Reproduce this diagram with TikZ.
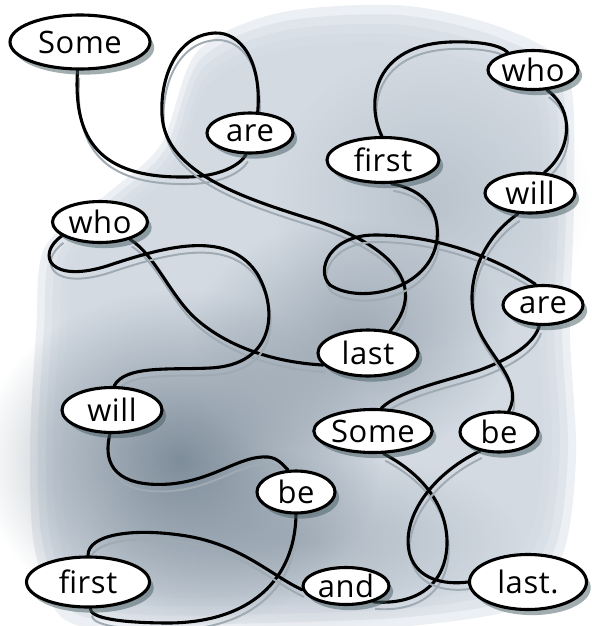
\documentclass[tikz,border=0pt]{standalone}
\usepackage{fontspec}
\newfontfamily\handfont{Open Sans}[LetterSpace=2]
\usetikzlibrary{shapes.geometric,shadows,fadings}
\definecolor{washlight}{RGB}{208,216,225}
\definecolor{washdark}{RGB}{112,128,142}
\definecolor{lineshade}{RGB}{160,170,178}
\definecolor{ovalshade}{RGB}{70,92,98}
\tikzfading[name=softblob, inner color=transparent!0, outer color=transparent!100]
\pgfdeclarelayer{wash}
\pgfdeclarelayer{links}
\pgfsetlayers{wash,links,main}
\begin{document}
\begin{tikzpicture}[x=0.025cm, y=-0.025cm,
    word/.style={ellipse, draw, line width=2.2pt, fill=white, inner sep=0pt,
      font=\handfont\fontsize{22}{22}\selectfont,
      drop shadow={shadow xshift=3pt, shadow yshift=-4pt, fill=ovalshade, opacity=0.5}},
    oval/.style 2 args={minimum width=#1*0.025cm, minimum height=#2*0.025cm},
    link/.style={line width=2.2pt, line cap=round,
      preaction={draw=lineshade, line width=1.4pt, transform canvas={shift={(1.2pt,-5pt)}}}}]
  \useasboundingbox (0,0) rectangle (592,626);
  % words
  \node[word, oval={140}{54}] (some1) at (80,42) {Some};
  \node[word, oval={86}{40}] (are1) at (250,133) {are};
  \node[word, oval={90}{39}] (who1) at (533,70) {who};
  \node[word, oval={112}{45}] (first1) at (383,160) {first};
  \node[word, oval={90}{40}] (will1) at (530,193) {will};
  \node[word, oval={95}{41}] (who2) at (100,222) {who};
  \node[word, oval={80}{39}] (are2) at (543,305) {are};
  \node[word, oval={100}{46}] (last1) at (368,353) {last};
  \node[word, oval={100}{45}] (will2) at (112,410) {will};
  \node[word, oval={110}{43}] (some2) at (373,431) {Some};
  \node[word, oval={78}{40}] (be1) at (499,432) {be};
  \node[word, oval={78}{42}] (be2) at (296,492) {be};
  \node[word, oval={123}{50}] (first2) at (88,582) {first};
  \node[word, oval={86}{37}] (and) at (346,586) {and};
  \node[word, oval={117}{55}] (last2) at (528,582) {last.};
  % lines between the words
  \begin{pgfonlayer}{links}
    \draw[link] (some1.265) .. controls (73,140) and (100,178) .. (185,177)
      .. controls (220,177) and (240,165) .. (are1.260);
    \draw[link] (are1.70) .. controls (262,60) and (240,32) .. (215,33)
      .. controls (175,35) and (160,80) .. (162,115)
      .. controls (165,175) and (250,200) .. (320,222)
      .. controls (400,250) and (425,290) .. (last1.45);
    \draw[link] (last1.195) .. controls (270,362) and (225,345) .. (195,318)
      .. controls (170,295) and (155,255) .. (who2.330);
    \draw[link] (who2.200) .. controls (35,255) and (50,285) .. (110,265)
      .. controls (170,245) and (230,230) .. (258,275)
      .. controls (278,310) and (275,365) .. (210,368)
      .. controls (170,370) and (125,365) .. (will2.85);
    \draw[link] (will2.265) .. controls (100,475) and (130,487) .. (170,484)
      .. controls (215,480) and (240,455) .. (268,457)
      .. controls (278,458) and (283,465) .. (be2.110);
    \draw[link] (be2.270) .. controls (295,580) and (250,622) .. (170,623)
      .. controls (120,623) and (90,618) .. (first2.275);
    \draw[link] (first2.90) .. controls (88,535) and (130,528) .. (180,535)
      .. controls (240,543) and (270,575) .. (and.185);
    \draw[link] (and.330) .. controls (410,605) and (445,590) .. (447,545)
      .. controls (448,500) and (415,470) .. (some2.295);
    \draw[link] (some2.70) .. controls (400,390) and (450,380) .. (480,370)
      .. controls (520,355) and (535,340) .. (are2.260);
    \draw[link] (are2.110) .. controls (500,260) and (440,235) .. (375,235)
      .. controls (330,235) and (315,270) .. (330,285)
      .. controls (360,305) and (430,290) .. (437,240)
      .. controls (440,210) and (425,190) .. (first1.290);
    \draw[link] (first1.93) .. controls (365,100) and (375,45) .. (450,42)
      .. controls (480,41) and (500,45) .. (who1.145);
    \draw[link] (who1.305) .. controls (575,110) and (572,150) .. (will1.55);
    \draw[link] (will1.240) .. controls (480,240) and (465,285) .. (475,320)
      .. controls (485,355) and (525,380) .. (be1.65);
    \draw[link] (be1.225) .. controls (430,475) and (400,520) .. (410,555)
      .. controls (418,580) and (445,585) .. (last2.180);
  \end{pgfonlayer}
  % watercolour wash
  \begin{pgfonlayer}{wash}
    \fill[white] (0,0) rectangle (592,626);
    \foreach \s in {1.03,1.0,0.97,0.94,0.91}
      \fill[washlight, opacity=0.4, shift={(300,330)}, scale=\s, shift={(-300,-330)}]
        plot[smooth cycle] coordinates {(280,22) (400,15) (500,38) (560,80)
        (566,200) (562,330) (568,450) (556,545) (515,598) (420,616) (300,622) (150,624)
        (70,610) (42,540) (38,440) (44,330) (52,250) (110,200) (165,150) (200,60)};
    \fill[washdark, path fading=softblob, opacity=0.85] (180,460) ellipse (200 and 170);
    \fill[washdark, path fading=softblob, opacity=0.55] (350,340) ellipse (160 and 120);
    \fill[washdark, path fading=softblob, opacity=0.4] (300,540) ellipse (220 and 90);
    \fill[washdark, path fading=softblob, opacity=0.25] (430,200) ellipse (160 and 150);
  \end{pgfonlayer}
\end{tikzpicture}
\end{document}
